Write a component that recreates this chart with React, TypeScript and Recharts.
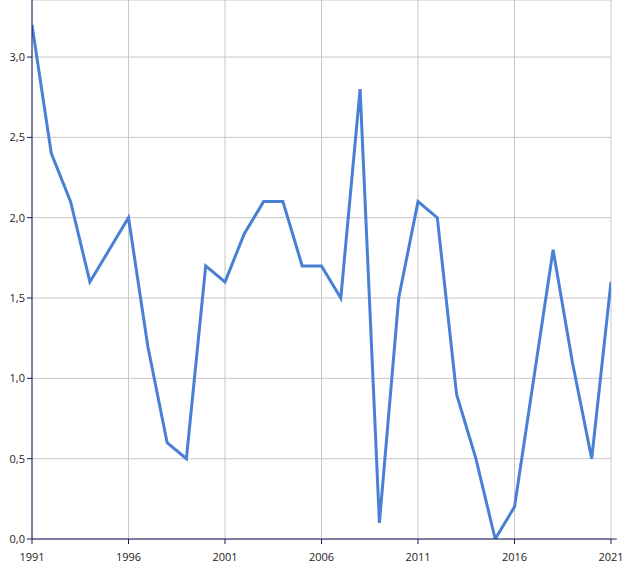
import {
  LineChart,
  Line,
  XAxis,
  YAxis,
  CartesianGrid,
  ReferenceLine,
} from "recharts";

const years = [
  1991, 1992, 1993, 1994, 1995, 1996, 1997, 1998, 1999, 2000, 2001, 2002, 2003,
  2004, 2005, 2006, 2007, 2008, 2009, 2010, 2011, 2012, 2013, 2014, 2015, 2016,
  2017, 2018, 2019, 2020, 2021,
];

const values = [
  3.2, 2.4, 2.1, 1.6, 1.8, 2.0, 1.2, 0.6, 0.5, 1.7, 1.6, 1.9, 2.1, 2.1, 1.7,
  1.7, 1.5, 2.8, 0.1, 1.5, 2.1, 2.0, 0.9, 0.5, 0.0, 0.2, 1.0, 1.8, 1.1, 0.5, 1.6,
];

const xTicks = [1991, 1996, 2001, 2006, 2011, 2016, 2021];
const yTicks = [0, 0.5, 1, 1.5, 2, 2.5, 3];

const data = years.map((year, i) => ({ year, value: values[i] }));

const tickStyle = { fontSize: 11, fill: "#222", fontFamily: "Open Sans" };

export default function App() {
  return (
    <div style={{ position: "absolute", left: 0, top: 0 }}>
      <LineChart
        width={635}
        height={572}
        data={data}
        margin={{ top: 0, right: 24, left: 0, bottom: 0 }}
      >
        <CartesianGrid stroke="#c8c8c8" strokeWidth={1} />
        <XAxis
          dataKey="year"
          type="number"
          domain={[1991, 2021]}
          ticks={xTicks}
          height={33}
          tick={tickStyle}
          tickSize={5}
          tickMargin={9}
          stroke="#1b1b5a"
          allowDataOverflow
        />
        <YAxis
          type="number"
          domain={[0, 3.355]}
          ticks={yTicks}
          width={32}
          tick={tickStyle}
          tickSize={5}
          tickFormatter={(v: number) => v.toFixed(1).replace(".", ",")}
          stroke="#1b1b5a"
          allowDataOverflow
        />
        {/* axis line runs a little past the last year */}
        <ReferenceLine
          segment={[
            { x: 2021, y: 0 },
            { x: 2021.3, y: 0 },
          ]}
          stroke="#1b1b5a"
          ifOverflow="visible"
        />
        <Line
          type="linear"
          dataKey="value"
          stroke="#4a7fd6"
          strokeWidth={3}
          dot={false}
          isAnimationActive={false}
        />
      </LineChart>
    </div>
  );
}
